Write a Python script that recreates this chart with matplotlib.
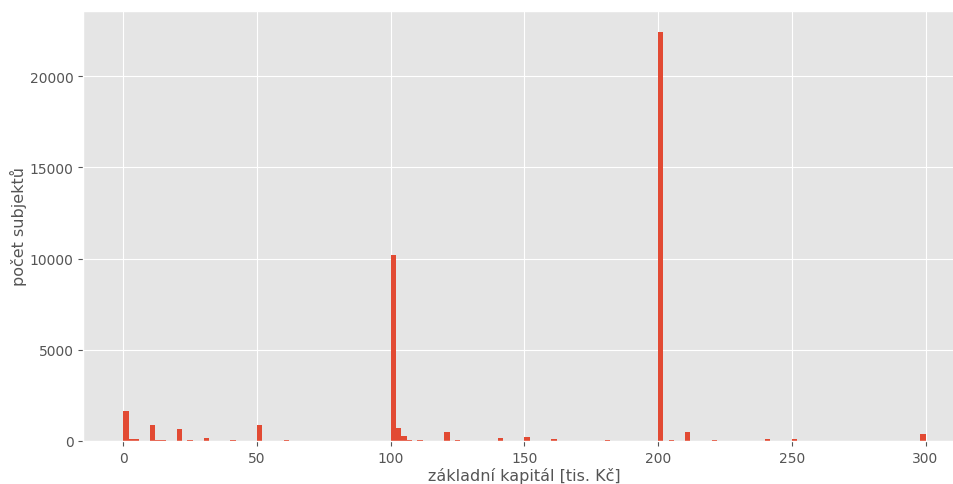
import matplotlib
matplotlib.use("Agg")
import matplotlib.pyplot as plt
import numpy as np

plt.style.use("ggplot")

# histogram of registered capital, bins 2 tis. Kč wide over 0-300
bin_width = 2
bin_left = [0, 2, 4, 10, 12, 14, 20, 24, 30, 40, 50, 60,
            100, 102, 104, 106, 110, 120, 124, 140, 150, 160, 180,
            200, 204, 210, 220, 240, 250, 298]
counts = [1640, 110, 100, 880, 35, 30, 650, 30, 170, 30, 880, 30,
          10200, 710, 280, 40, 40, 490, 40, 160, 200, 110, 40,
          22450, 40, 490, 40, 100, 100, 380]

fig = plt.figure(figsize=(9.54, 4.85), dpi=100)
ax = fig.add_axes([0.0872, 0.089, 0.925, 0.886])

edges = np.arange(0, 300 + bin_width, bin_width)
ax.hist(bin_left, bins=edges, weights=counts)

ax.set_xlabel("základní kapitál [tis. Kč]", fontsize=11.5, labelpad=2)
ax.set_ylabel("počet subjektů", fontsize=11.5, labelpad=2)

fig.savefig("out.png", dpi=100)
